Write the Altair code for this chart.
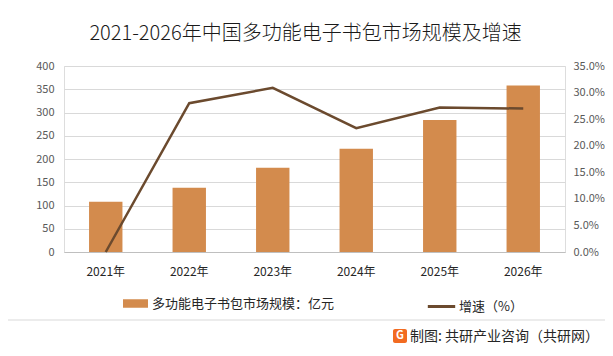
import altair as alt
import pandas as pd

years = ["2021年", "2022年", "2023年", "2024年", "2025年", "2026年"]
market_size = [108, 138, 181, 222, 284, 358]
growth = [0.0, 0.280, 0.309, 0.233, 0.272, 0.270]
growth_ticks = [0.0, 0.05, 0.10, 0.15, 0.20, 0.25, 0.30, 0.35]
size_ticks = [0, 50, 100, 150, 200, 250, 300, 350, 400]
bar_label = "多功能电子书包市场规模：亿元"
line_label = "增速（%）"
title_text = "2021-2026年中国多功能电子书包市场规模及增速"
source_text = "制图: 共研产业咨询（共研网）"

BAR_COLOR = "#D38B4D"
LINE_COLOR = "#6B4A2E"
FONT = "Noto Sans CJK SC"

df = pd.DataFrame({"year": years, "size": market_size, "growth": growth,
                   "s1": [bar_label] * 6, "s2": [line_label] * 6})

W, H = 501, 186

x = alt.X("year:N", sort=years, title=None,
          scale=alt.Scale(paddingInner=0.6, paddingOuter=0.3),
          axis=alt.Axis(labelAngle=0, labelFontSize=12, labelColor="#262626",
                        labelPadding=14, ticks=False, domainColor="#BFBFBF",
                        labelFont=FONT))

bars = alt.Chart(df).mark_bar(color=BAR_COLOR).encode(
    x=x,
    y=alt.Y("size:Q", title=None,
            scale=alt.Scale(domain=[0, 400]),
            axis=alt.Axis(values=size_ticks, ticks=False, domain=False,
                          labelFontSize=11, labelColor="#595959", labelPadding=10,
                          gridColor="#D9D9D9", labelFont=FONT)),
    fill=alt.Fill("s1:N", title=None,
                  scale=alt.Scale(domain=[bar_label], range=[BAR_COLOR]),
                  legend=alt.Legend(orient="none", legendX=59, legendY=225,
                                    symbolType="M-1,-0.34L1,-0.34L1,0.34L-1,0.34Z",
                                    symbolSize=625, symbolStrokeWidth=0,
                                    labelFontSize=13, labelColor="#262626",
                                    labelLimit=400,
                                    labelFont=FONT, labelOffset=4)),
)

line = alt.Chart(df).mark_line(color=LINE_COLOR, strokeWidth=2.5).encode(
    x=x,
    y=alt.Y("growth:Q", title=None,
            scale=alt.Scale(domain=[0, 0.3501], nice=False),
            axis=alt.Axis(orient="right", values=growth_ticks,
                          format=".1%", ticks=False, domain=False, grid=False,
                          labelFontSize=11, labelColor="#595959", labelPadding=8,
                          labelFont=FONT)),
    stroke=alt.Stroke("s2:N", title=None,
                      scale=alt.Scale(domain=[line_label], range=[LINE_COLOR]),
                      legend=alt.Legend(orient="none", legendX=362, legendY=225,
                                        symbolType="stroke", symbolSize=750,
                                        symbolStrokeWidth=3, labelLimit=200,
                                        labelFontSize=13, labelColor="#262626",
                                        labelFont=FONT, labelOffset=2)),
)

deco_df = pd.DataFrame({"t": [source_text]})
sep = alt.Chart(deco_df).mark_rule(color="#D9D9D9", strokeWidth=1).encode(
    x=alt.value(-56), x2=alt.value(W + 40), y=alt.value(254))
logo = alt.Chart(deco_df).mark_rect(color="#F26B21", cornerRadius=2).encode(
    x=alt.value(329), x2=alt.value(343), y=alt.value(263), y2=alt.value(277))
logo_g = alt.Chart(deco_df).mark_text(color="white", fontSize=11, fontWeight="bold",
                                      font=FONT, align="center", baseline="middle").encode(
    x=alt.value(336), y=alt.value(270), text=alt.value("G"))
source = alt.Chart(deco_df).mark_text(color="#262626", fontSize=14, font=FONT,
                                      align="left", baseline="middle").encode(
    x=alt.value(346), y=alt.value(271), text="t:N")

chart = alt.layer(bars, line, sep, logo, logo_g, source).resolve_scale(
    y="independent", fill="independent", stroke="independent"
).properties(
    width=W, height=H,
    title=alt.TitleParams(title_text, fontSize=20, font=FONT, fontWeight=300,
                          color="#1A1A1A", anchor="middle", dx=-9, offset=16),
    autosize=alt.AutoSizeParams(type="none"),
    padding={"left": 56, "top": 58, "right": 40, "bottom": 96},
).configure_view(stroke=None).configure(background="white")

chart.save("out.html", embed_options={"renderer": "svg", "actions": False})
